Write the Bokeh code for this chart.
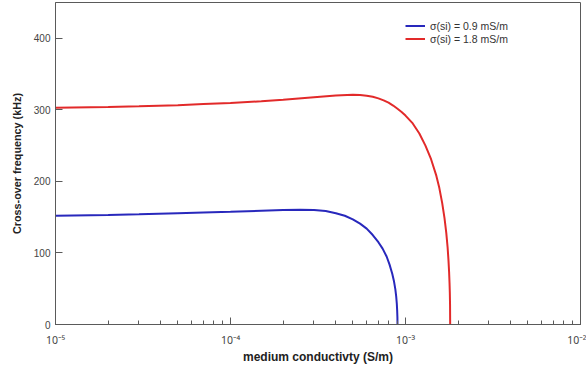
from bokeh.plotting import figure
from bokeh.models import (Legend, LegendItem, FixedTicker, CustomJSTickFormatter,
                          LogTicker)
from bokeh.embed import file_html
from bokeh.resources import INLINE

# ---- data ----
sigma_blue = [1e-5, 2e-5, 3e-5, 5e-5, 7e-5, 1e-4, 1.5e-4, 2e-4, 2.5e-4, 3e-4,
              3.5e-4, 4e-4, 4.5e-4, 5e-4, 5.5e-4, 6e-4, 6.5e-4, 7e-4, 7.4e-4,
              7.8e-4, 8.1e-4, 8.4e-4, 8.6e-4, 8.75e-4, 8.85e-4, 8.92e-4,
              8.96e-4, 8.99e-4, 9.0e-4]
f_blue = [152, 153, 154, 155.5, 156.5, 157.5, 159, 160, 160.5, 160,
          158.5, 155.5, 152, 147, 141, 134, 125, 115, 106,
          95, 84, 71, 60, 49, 39, 29,
          20, 10, 0]

sigma_red = [1e-5, 2e-5, 3e-5, 5e-5, 7e-5, 1e-4, 1.5e-4, 2e-4, 3e-4, 4e-4,
             5e-4, 5.5e-4, 6e-4, 6.5e-4, 7e-4, 7.5e-4, 8e-4, 8.5e-4, 9e-4,
             9.5e-4, 1.0e-3, 1.1e-3, 1.2e-3, 1.3e-3,
             1.4e-3, 1.5e-3, 1.56e-3, 1.62e-3, 1.67e-3, 1.71e-3, 1.74e-3,
             1.76e-3, 1.775e-3, 1.785e-3, 1.792e-3, 1.797e-3, 1.8e-3]
f_red = [303, 304, 305, 306.5, 308, 309.5, 312, 314, 317.5, 320,
         321, 320.7, 319.8, 318.2, 316, 313.3, 310, 306, 301.5,
         297, 292, 281, 267, 250,
         231, 208, 191, 170, 149, 128, 108,
         90, 73, 58, 44, 28, 0]

x_ticks = [1e-5, 1e-4, 1e-3, 1e-2]
x_tick_labels = ["10\u207b\u2075", "10\u207b\u2074", "10\u207b\u00b3", "10\u207b\u00b2"]
y_ticks = [0, 100, 200, 300, 400]

series_labels = ["\u03c3(si) = 0.9 mS/m", "\u03c3(si) = 1.8 mS/m"]
x_title = "medium conductivty (S/m)"
y_title = "Cross-over frequency (kHz)"

FONT = "Liberation Sans"
AXIS_COL = "#5a5a5a"

p = figure(width=586, height=366, x_axis_type="log",
           x_range=(1e-5, 1e-2), y_range=(0, 450),
           output_backend="svg", toolbar_location=None,
           min_border_left=55, min_border_right=6,
           min_border_top=2, min_border_bottom=41)

p.xgrid.visible = False
p.ygrid.visible = False
p.outline_line_color = AXIS_COL
p.outline_line_width = 1
p.background_fill_color = "white"
p.border_fill_color = "white"

blue = p.line(sigma_blue, f_blue, line_color="#2828bc", line_width=2)
red = p.line(sigma_red, f_red, line_color="#e22a2a", line_width=2)

# axes
xa = p.xaxis[0]
xa.ticker = LogTicker(desired_num_ticks=4, num_minor_ticks=10)
xa.formatter = CustomJSTickFormatter(args=dict(vals=x_ticks, labels=x_tick_labels), code="""
    let best = 0, bd = 1e9;
    for (let i = 0; i < vals.length; i++) {
        const d = Math.abs(Math.log10(tick) - Math.log10(vals[i]));
        if (d < bd) { bd = d; best = i; }
    }
    return labels[best];
""")
ya = p.yaxis[0]
ya.ticker = FixedTicker(ticks=y_ticks)

for ax in (xa, ya):
    ax.axis_line_color = AXIS_COL
    ax.major_tick_line_color = AXIS_COL
    ax.minor_tick_line_color = AXIS_COL
    ax.major_tick_in = 7
    ax.major_tick_out = 0
    ax.minor_tick_in = 4
    ax.minor_tick_out = 0
    ax.major_label_text_font = FONT
    ax.major_label_text_font_size = "10px"
    ax.major_label_text_color = "#444444"
    ax.axis_label_text_font = FONT
    ax.axis_label_text_font_style = "bold"
    ax.axis_label_text_color = "#222222"

xa.axis_label_text_font_size = "12px"
ya.axis_label_text_font_size = "10.8px"
xa.major_label_text_font = "Noto Sans"
xa.major_label_text_font_size = "10.5px"
ya.minor_tick_line_color = None
xa.axis_label = x_title
ya.axis_label = y_title
xa.major_label_standoff = 8
xa.axis_label_standoff = 0
ya.major_label_standoff = 5
ya.axis_label_standoff = 8

legend = Legend(items=[LegendItem(label=series_labels[0], renderers=[blue]),
                       LegendItem(label=series_labels[1], renderers=[red])],
                location=(350, 279), padding=0, margin=0, spacing=0,
                glyph_width=20, glyph_height=13, label_height=13,
                label_standoff=5, border_line_color=None,
                background_fill_alpha=0,
                label_text_font=FONT, label_text_font_size="10.5px",
                label_text_color="#333333")
p.add_layout(legend)

open("out.html", "w").write(file_html(p, INLINE))
